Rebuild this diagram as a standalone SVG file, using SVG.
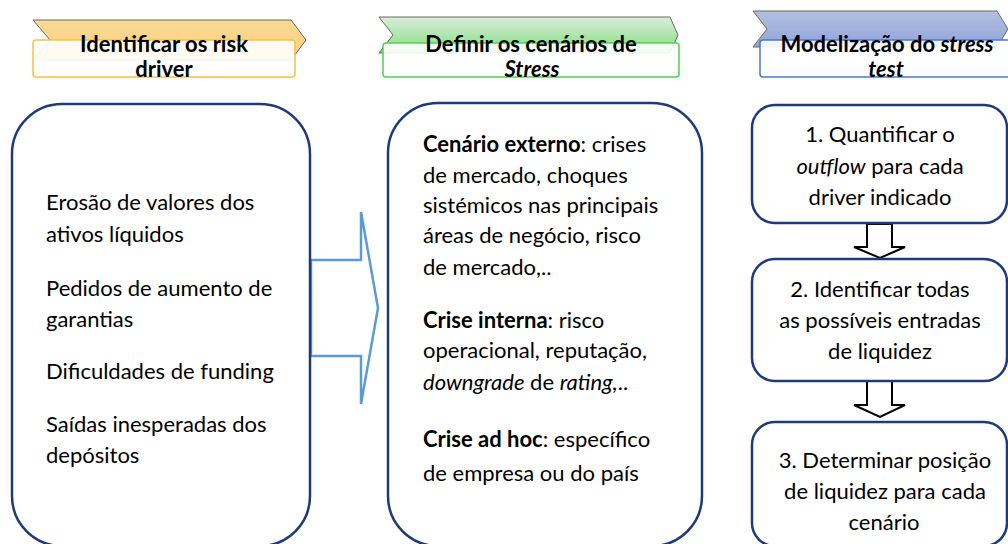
<svg xmlns="http://www.w3.org/2000/svg" width="1008" height="544" viewBox="0 0 1008 544">
<defs>
<linearGradient id="gGold" x1="0" y1="0" x2="0" y2="1"><stop offset="0" stop-color="#f9d994"/><stop offset="1" stop-color="#fdd27c"/></linearGradient>
<linearGradient id="gGreen" x1="0" y1="0" x2="0" y2="1"><stop offset="0" stop-color="#dcecdc"/><stop offset="1" stop-color="#7fe07f"/></linearGradient>
<linearGradient id="gBlue" x1="0" y1="0" x2="0" y2="1"><stop offset="0" stop-color="#b3bfe2"/><stop offset="1" stop-color="#92a5da"/></linearGradient>
<style>
text{font-family:Lato,"Liberation Sans",sans-serif;fill:#000}
.h{font-size:22px;font-weight:bold;text-anchor:middle}
.b{font-size:22px}
.c{font-size:22px;text-anchor:middle}
.chev{stroke:#6a6a5a;stroke-width:1}
.hbox{fill:#fff;fill-opacity:0.9;stroke-width:1.5}
.main{fill:#fff;stroke:#1f3a7a;stroke-width:2.5}
.step{fill:#fff;stroke:#1f3a7a;stroke-width:2.5}
.darr{fill:#fff;stroke:#000;stroke-width:2}
.barr{fill:#fff;stroke:#5b9bd5;stroke-width:2.5}
</style>
</defs>

<g id="header1">
<polygon class="chev" fill="url(#gGold)" points="33,20 291,20 306,40 291,60 33,60 50,40"/>
<rect class="hbox" x="33" y="40" width="262" height="37" rx="3" stroke="#f5c242"/>
<text class="h" x="164" y="52">Identificar os risk</text>
<text class="h" x="164" y="77">driver</text>
</g>

<g id="header2">
<polygon class="chev" fill="url(#gGreen)" points="379,17 670,17 678,35 670,53 379,53 393,35"/>
<rect class="hbox" x="383" y="43" width="296" height="34" rx="3" stroke="#4fd24f"/>
<text class="h" x="531" y="52">Definir os cenários de</text>
<text class="h" x="532" y="77" font-style="italic">Stress</text>
</g>

<g id="header3">
<polygon class="chev" fill="url(#gBlue)" points="753,11 997,11 1008,29 997,47 753,47 767,29"/>
<rect class="hbox" x="760" y="40" width="260" height="37" rx="3" stroke="#4a78cf"/>
<text class="h" x="887" y="52">Modelização do <tspan font-style="italic">stress</tspan></text>
<text class="h" x="886" y="77" font-style="italic">test</text>
</g>

<g id="connectors">
<polygon class="barr" points="311,260 361,260 361,212 378,308 361,404 361,356 311,356"/>
<polygon class="darr" points="867,224 892,224 892,247 905,247 880,258 854,247 867,247"/>
<polygon class="darr" points="867,381 892,381 892,405 905,405 880,417 854,405 867,405"/>
</g>

<g id="box1">
<rect class="main" x="12" y="104" width="298" height="442" rx="50"/>
<text class="b" x="46" y="210">Erosão de valores dos</text>
<text class="b" x="46" y="242">ativos líquidos</text>
<text class="b" x="46" y="296">Pedidos de aumento de</text>
<text class="b" x="46" y="327">garantias</text>
<text class="b" x="46" y="379">Dificuldades de funding</text>
<text class="b" x="46" y="432">Saídas inesperadas dos</text>
<text class="b" x="46" y="463">depósitos</text>
</g>

<g id="box2">
<rect class="main" x="388" y="103" width="314" height="443" rx="50"/>
<text class="b" x="423" y="152"><tspan font-weight="bold">Cenário externo</tspan>: crises</text>
<text class="b" x="423" y="183">de mercado, choques</text>
<text class="b" x="423" y="213">sistémicos nas principais</text>
<text class="b" x="423" y="243">áreas de negócio, risco</text>
<text class="b" x="423" y="275">de mercado,..</text>
<text class="b" x="423" y="328"><tspan font-weight="bold">Crise interna</tspan>: risco</text>
<text class="b" x="423" y="358">operacional, reputação,</text>
<text class="b" x="423" y="390"><tspan font-style="italic">downgrade</tspan> de <tspan font-style="italic">rating,</tspan>..</text>
<text class="b" x="423" y="447"><tspan font-weight="bold">Crise ad hoc</tspan>: específico</text>
<text class="b" x="423" y="481" font-size="28">de empresa ou do país</text>
</g>

<g id="step1">
<rect class="step" x="752" y="105" width="255" height="118" rx="23"/>
<text class="c" x="880" y="142">1. Quantificar o</text>
<text class="c" x="880" y="174"><tspan font-style="italic">outflow</tspan> para cada</text>
<text class="c" x="880" y="205">driver indicado</text>
</g>

<g id="step2">
<rect class="step" x="752" y="259" width="255" height="122" rx="23"/>
<text class="c" x="880" y="297">2. Identificar todas</text>
<text class="c" x="880" y="328">as possíveis entradas</text>
<text class="c" x="880" y="359">de liquidez</text>
</g>

<g id="step3">
<rect class="step" x="752" y="422" width="255" height="124" rx="23"/>
<text class="c" x="885" y="468">3. Determinar posição</text>
<text class="c" x="885" y="499">de liquidez para cada</text>
<text class="c" x="884" y="530">cenário</text>
</g>
</svg>
